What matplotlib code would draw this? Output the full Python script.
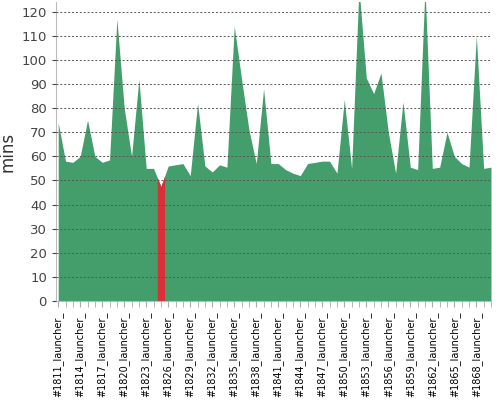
import matplotlib
matplotlib.use("Agg")
import matplotlib.pyplot as plt
import numpy as np

builds = list(range(1811, 1871))
labels = [f"#{b}_launcher_" for b in builds]
durations = [74, 58, 57.5, 60, 75, 60, 57.5, 58.5, 117, 80, 60, 92, 55, 55, 47.5,
             56, 56.5, 57, 52, 82, 56, 53.5, 56.5, 55.5, 114, 92, 71, 57, 88, 57,
             57, 54.5, 53, 52, 57, 57.5, 58, 58, 53, 83.5, 55, 130, 92.5, 86, 94.6,
             70, 53, 82.6, 55.5, 54.5, 130, 55, 55.5, 70, 60, 57, 55.5, 110, 55, 55.5]
failed = [b == 1825 for b in builds]

fig = plt.figure(figsize=(5, 4), dpi=100)
ax = fig.add_axes([0.112, 0.2475, 0.87, 0.7475])
x = np.arange(len(builds))
y = np.array(durations, dtype=float)
green = "#449e6c"
red = "#d63237"
n = len(x)
ax.fill_between(x, 0, y, color=green, linewidth=0)
for i in range(n):
    if failed[i]:
        lo = max(i - 0.5, 0)
        hi = min(i + 0.5, n - 1)
        xs = np.array([lo, i, hi])
        ys = np.interp(xs, x, y)
        ax.fill_between(xs, 0, ys, color=red, linewidth=0)

ax.set_xlim(-0.3, n - 1)
ax.set_ylim(0, 124)
ax.set_yticks(range(0, 121, 10))
ax.yaxis.grid(True, linestyle=(0, (2, 2)), color="#555555", linewidth=0.7)
ax.set_axisbelow(False)
ax.set_xticks(x[::3])
ax.set_xticklabels(labels[::3], rotation=90, fontsize=7)
ax.set_xticks(x, minor=True)
ax.tick_params(axis="y", colors="#444444", labelsize=9.5, length=3)
ax.tick_params(axis="x", which="both", colors="#aaaaaa", labelcolor="black", length=4)
for s in ["top", "right"]:
    ax.spines[s].set_visible(False)
ax.spines["left"].set_color("#bbbbbb")
ax.spines["bottom"].set_color("#bbbbbb")
ax.set_ylabel("mins", fontsize=12, color="#333333")
fig.savefig("out.png", dpi=100)
